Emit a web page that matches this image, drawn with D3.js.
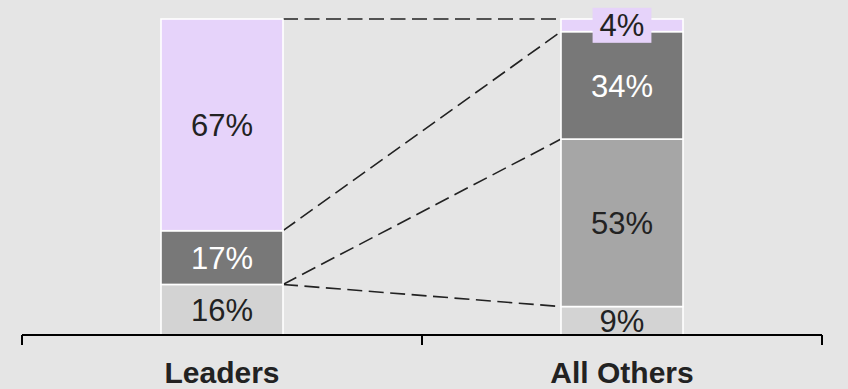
<!DOCTYPE html>
<html>
<head>
<meta charset="utf-8">
<script src="https://cdn.jsdelivr.net/npm/d3@7"></script>
<style>
  html, body { margin: 0; padding: 0; background: #e5e5e5; }
  svg { display: block; font-family: Arial, "Liberation Sans", sans-serif; }
</style>
</head>
<body>
<svg id="svg"></svg>
<script>
// chart data (percent of each group)
var categories = ["Leaders", "All Others"];
var seriesKeys = ["light", "mid", "dark", "lavender"];
var lightShare = [16, 9];
var midShare = [0, 53];
var darkShare = [17, 34];
var lavenderShare = [67, 4];

var seriesColors = { light: "#d3d3d3", mid: "#a6a6a6", dark: "#787878", lavender: "#e6d3fa" };
var labelColors = { light: "#222", mid: "#222", dark: "#fff", lavender: "#222" };

//////////////////////////////////////////////////////////////////////////////

var width = 848, height = 389;
var rows = categories.map(function(c, i) {
    return { cat: c, light: lightShare[i], mid: midShare[i], dark: darkShare[i], lavender: lavenderShare[i] };
});

var stacked = d3.stack().keys(seriesKeys)(rows);

var svg = d3.select("#svg").attr("width", width).attr("height", height);

// outer bands give the axis ticks, inner bands give the bars
var xOuter = d3.scaleBand().domain(categories).range([22, 822]).padding(0);
var x = d3.scaleBand().domain(categories).range([22, 822])
        .paddingInner(0.695).paddingOuter(0.3475);
var y = d3.scaleLinear().domain([0, 100]).range([335, 19]);

var labelSize = 31;

// dashed connectors between cumulative boundaries
var left = categories[0], right = categories[1];
svg.append("g").selectAll("line")
    .data(stacked)
    .enter()
    .append("line")
    .attr("x1", x(left) + x.bandwidth())
    .attr("x2", x(right))
    .attr("y1", function(s) { return y(s[0][1]); })
    .attr("y2", function(s) { return y(s[1][1]); })
    .attr("stroke", "#222")
    .attr("stroke-width", 1.6)
    .attr("stroke-dasharray", "15,6.5");

// bars
var layers = svg.append("g").selectAll("g")
    .data(stacked)
    .enter()
    .append("g")
    .attr("fill", function(s) { return seriesColors[s.key]; });

layers.selectAll("rect")
    .data(function(s) { return s.filter(function(d) { return d[1] > d[0]; }); })
    .enter()
    .append("rect")
    .attr("x", function(d) { return x(d.data.cat); })
    .attr("width", x.bandwidth())
    .attr("y", function(d) { return y(d[1]); })
    .attr("height", function(d) { return y(d[0]) - y(d[1]); })
    .attr("stroke", "#fff")
    .attr("stroke-width", 1.6);

// value labels (a very thin segment gets a coloured box behind its label)
var labelData = [];
stacked.forEach(function(s) {
    s.forEach(function(d) {
        if (d[1] > d[0]) labelData.push({ key: s.key, d: d, v: d[1] - d[0] });
    });
});

var labels = svg.append("g").selectAll("g")
    .data(labelData)
    .enter()
    .append("g")
    .attr("transform", function(l) {
        return "translate(" + (x(l.d.data.cat) + x.bandwidth() / 2) + "," + y((l.d[0] + l.d[1]) / 2) + ")";
    });

labels.each(function(l) {
    var g = d3.select(this);
    var t = g.append("text")
        .attr("text-anchor", "middle")
        .attr("dy", "0.36em")
        .attr("font-size", labelSize)
        .attr("fill", labelColors[l.key])
        .text(l.v + "%");
    var segH = y(l.d[0]) - y(l.d[1]);
    if (segH < 20) {
        var bb = t.node().getBBox();
        g.insert("rect", "text")
            .attr("x", bb.x - 7)
            .attr("width", bb.width + 14)
            .attr("y", -17.5)
            .attr("height", 35)
            .attr("fill", seriesColors[l.key]);
    }
});

// axis: baseline plus ticks at band boundaries
var axis = svg.append("g");
var tickXs = categories.map(function(c) { return xOuter(c); });
tickXs.push(xOuter.range()[1]);

axis.append("line")
    .attr("x1", xOuter.range()[0]).attr("x2", xOuter.range()[1])
    .attr("y1", 335).attr("y2", 335)
    .attr("stroke", "#000").attr("stroke-width", 2);

axis.selectAll(".tick")
    .data(tickXs)
    .enter()
    .append("line")
    .attr("class", "tick")
    .attr("x1", function(d) { return d; })
    .attr("x2", function(d) { return d; })
    .attr("y1", 335).attr("y2", 345)
    .attr("stroke", "#000").attr("stroke-width", 2);

axis.selectAll("text")
    .data(categories)
    .enter()
    .append("text")
    .attr("x", function(c) { return x(c) + x.bandwidth() / 2; })
    .attr("y", 383)
    .attr("text-anchor", "middle")
    .attr("font-size", 30)
    .attr("font-weight", "bold")
    .attr("fill", "#222")
    .text(function(c) { return c; });
</script>
</body>
</html>
